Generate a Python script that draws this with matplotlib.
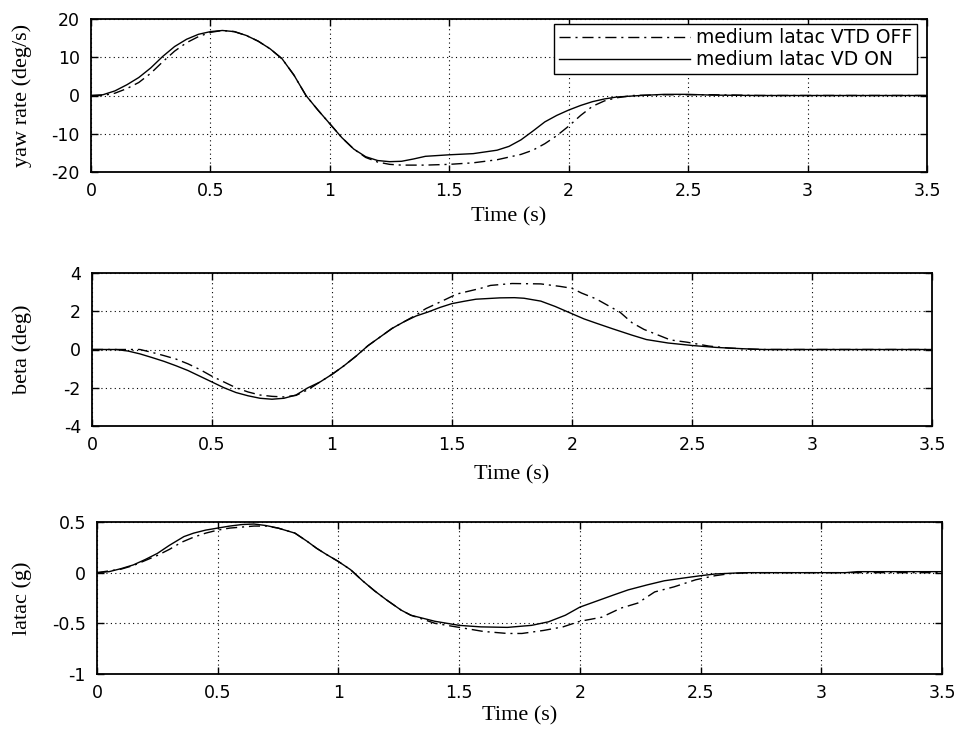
import numpy as np
import matplotlib
matplotlib.use("Agg")
import matplotlib.pyplot as plt

# ---- data ----
t_yaw_on = [0, 0.05, 0.1, 0.15, 0.2, 0.25, 0.3, 0.35, 0.4, 0.45, 0.5, 0.55, 0.6, 0.65, 0.7, 0.75,
            0.8, 0.85, 0.9, 0.95, 1.0, 1.05, 1.1, 1.15, 1.2, 1.25, 1.3, 1.35, 1.4, 1.5, 1.6, 1.7,
            1.75, 1.8, 1.85, 1.9, 1.95, 2.0, 2.05, 2.1, 2.15, 2.2, 2.3, 2.4, 2.5, 2.6, 2.8, 3.5]
yaw_on = [0, 0.2, 1.2, 2.8, 4.7, 7.2, 10.2, 12.8, 14.7, 16.0, 16.7, 17.0, 16.7, 15.7, 14.2, 12.2,
          9.6, 5.3, 0, -3.8, -7.4, -11.0, -14.0, -16.0, -17.0, -17.3, -17.2, -16.6, -15.9, -15.5, -15.2, -14.3,
          -13.3, -11.6, -9.3, -6.9, -5.2, -3.8, -2.6, -1.6, -0.9, -0.4, 0, 0.3, 0.3, 0.1, 0, 0]

t_yaw_off = [0, 0.05, 0.1, 0.15, 0.2, 0.25, 0.3, 0.35, 0.4, 0.45, 0.5, 0.55, 0.6, 0.65, 0.7, 0.75,
             0.8, 0.85, 0.9, 0.95, 1.0, 1.05, 1.1, 1.15, 1.2, 1.25, 1.3, 1.4, 1.5, 1.6, 1.7, 1.8,
             1.85, 1.9, 1.95, 2.0, 2.05, 2.1, 2.15, 2.2, 2.27, 2.4, 2.6, 2.8, 3.5]
yaw_off = [0, 0, 0.6, 1.8, 3.4, 5.8, 8.8, 11.6, 13.8, 15.4, 16.5, 17.0, 16.7, 15.7, 14.2, 12.2,
           9.6, 5.3, 0, -3.8, -7.4, -11.0, -14.0, -16.2, -17.4, -18.0, -18.2, -18.2, -18.0, -17.6, -16.8, -15.4,
           -14.3, -12.6, -10.5, -8.0, -5.2, -2.8, -1.4, -0.6, 0, 0.2, 0.2, 0, 0]

t_beta_on = [0, 0.1, 0.15, 0.2, 0.25, 0.3, 0.35, 0.4, 0.45, 0.5, 0.55, 0.6, 0.65, 0.7, 0.75, 0.8,
             0.85, 0.9, 0.95, 1.0, 1.05, 1.1, 1.15, 1.2, 1.25, 1.3, 1.35, 1.4, 1.45, 1.5, 1.55, 1.6,
             1.7, 1.76, 1.8, 1.87, 1.93, 2.0, 2.05, 2.1, 2.17, 2.25, 2.31, 2.4, 2.5, 2.6, 2.66, 2.75, 2.8, 3.5]
beta_on = [0, 0, -0.08, -0.23, -0.42, -0.62, -0.85, -1.1, -1.4, -1.7, -2.0, -2.25, -2.42, -2.55, -2.6, -2.55,
           -2.38, -2.0, -1.7, -1.3, -0.85, -0.35, 0.2, 0.65, 1.1, 1.45, 1.75, 1.96, 2.2, 2.4, 2.52, 2.63,
           2.7, 2.71, 2.68, 2.53, 2.25, 1.87, 1.6, 1.38, 1.08, 0.75, 0.52, 0.34, 0.21, 0.11, 0.07, 0.02, 0, 0]

t_beta_off = [0, 0.2, 0.25, 0.3, 0.35, 0.4, 0.45, 0.5, 0.55, 0.6, 0.65, 0.7, 0.75, 0.8, 0.85, 0.9,
              0.95, 1.0, 1.05, 1.1, 1.15, 1.2, 1.25, 1.3, 1.35, 1.39, 1.45, 1.52, 1.62, 1.66, 1.75, 1.87,
              1.95, 2.0, 2.04, 2.1, 2.15, 2.2, 2.25, 2.3, 2.35, 2.41, 2.48, 2.57, 2.65, 2.72, 2.8, 3.5]
beta_off = [0, 0, -0.15, -0.32, -0.5, -0.75, -1.05, -1.4, -1.7, -2.0, -2.22, -2.38, -2.45, -2.48, -2.4, -2.1,
            -1.7, -1.3, -0.85, -0.35, 0.2, 0.65, 1.1, 1.45, 1.8, 2.13, 2.48, 2.9, 3.2, 3.35, 3.45, 3.43,
            3.3, 3.2, 2.95, 2.65, 2.3, 1.95, 1.4, 1.05, 0.8, 0.5, 0.38, 0.18, 0.08, 0.03, 0, 0]

t_lat_on = [0, 0.05, 0.1, 0.15, 0.2, 0.25, 0.3, 0.36, 0.4, 0.45, 0.5, 0.55, 0.6, 0.65, 0.7, 0.75,
            0.82, 0.87, 0.91, 0.95, 1.0, 1.05, 1.1, 1.15, 1.2, 1.26, 1.3, 1.4, 1.5, 1.59, 1.7, 1.8,
            1.87, 1.94, 2.0, 2.07, 2.14, 2.2, 2.28, 2.35, 2.42, 2.5, 2.56, 2.65, 2.7, 3.1, 3.15, 3.5]
lat_on = [0, 0.01, 0.04, 0.076, 0.13, 0.19, 0.27, 0.356, 0.39, 0.42, 0.44, 0.46, 0.475, 0.48, 0.465, 0.44,
          0.39, 0.31, 0.24, 0.18, 0.11, 0.03, -0.08, -0.18, -0.27, -0.37, -0.42, -0.48, -0.52, -0.535, -0.54, -0.52,
          -0.485, -0.42, -0.34, -0.28, -0.22, -0.17, -0.12, -0.08, -0.056, -0.03, -0.013, -0.003, 0, 0, 0.01, 0.01]

t_lat_off = [0, 0.1, 0.15, 0.2, 0.25, 0.3, 0.35, 0.4, 0.45, 0.5, 0.55, 0.6, 0.65, 0.7, 0.75, 0.82,
             0.87, 0.91, 0.95, 1.0, 1.05, 1.1, 1.15, 1.2, 1.26, 1.3, 1.4, 1.5, 1.55, 1.6, 1.7, 1.76,
             1.85, 1.93, 2.0, 2.09, 2.17, 2.24, 2.31, 2.39, 2.48, 2.56, 2.62, 2.7, 3.5]
lat_off = [0, 0.035, 0.07, 0.12, 0.17, 0.23, 0.3, 0.35, 0.39, 0.42, 0.44, 0.45, 0.46, 0.46, 0.44, 0.39,
           0.31, 0.24, 0.18, 0.11, 0.03, -0.08, -0.18, -0.27, -0.37, -0.42, -0.5, -0.54, -0.56, -0.58, -0.6, -0.6,
           -0.57, -0.535, -0.48, -0.44, -0.35, -0.3, -0.19, -0.14, -0.07, -0.03, -0.01, 0, 0]

x_ticks = [0, 0.5, 1, 1.5, 2, 2.5, 3, 3.5]
x_ticklabels = ["0", "0.5", "1", "1.5", "2", "2.5", "3", "3.5"]

panels = [
    # (t_off, y_off, t_on, y_on, ylabel, ylim, yticks, yticklabels, rect px, xlabel center y px)
    (t_yaw_off, yaw_off, t_yaw_on, yaw_on, "yaw rate (deg/s)", (-20, 20),
     [-20, -10, 0, 10, 20], ["-20", "-10", "0", "10", "20"], (91, 927, 19, 172), 217),
    (t_beta_off, beta_off, t_beta_on, beta_on, "beta (deg)", (-4, 4),
     [-4, -2, 0, 2, 4], ["-4", "-2", "0", "2", "4"], (92, 932, 273, 426), 475),
    (t_lat_off, lat_off, t_lat_on, lat_on, "latac (g)", (-1, 0.5),
     [-1, -0.5, 0, 0.5], ["-1", "-0.5", "0", "0.5"], (97, 942, 522, 674), 716),
]

W, H = 958, 733
fig = plt.figure(figsize=(W / 100, H / 100), dpi=100)

tick_font = {"family": "DejaVu Sans", "size": 12.5}
label_font = {"family": "Liberation Serif", "size": 16}
dashdot = (0, (8, 3.5, 1.5, 3.5))

for i, (t1, y1, t2, y2, ylab, ylim, yt, ytl, (l, r, top, bot), xl_y) in enumerate(panels):
    ax = fig.add_axes([l / W, 1 - bot / H, (r - l) / W, (bot - top) / H])
    ln_off, = ax.plot(t1, y1, color="black", lw=1.0, linestyle=dashdot, label="medium latac VTD OFF")
    ln_on, = ax.plot(t2, y2, color="black", lw=1.0, label="medium latac VD ON")

    ax.set_xlim(0, 3.5)
    ax.set_ylim(*ylim)
    ax.set_xticks(x_ticks)
    ax.set_xticklabels(x_ticklabels, fontdict=tick_font)
    ax.set_yticks(yt)
    ax.set_yticklabels(ytl, fontdict=tick_font)
    ax.tick_params(direction="in", length=5, width=1, top=True, right=True)
    ax.tick_params(axis="x", pad=7)
    ax.tick_params(axis="y", pad=8)
    for sp in ax.spines.values():
        sp.set_linewidth(1.3)
    ax.grid(True, color="black", linestyle=(0, (1, 3)), linewidth=0.8)

    ax.set_xlabel("Time (s)", fontdict=label_font, va="center")
    ax.xaxis.set_label_coords((l + r) / 2 / W, 1 - xl_y / H, transform=fig.transFigure)
    ax.set_ylabel(ylab, fontdict=label_font, va="center")
    ax.yaxis.set_label_coords(22 / W, 1 - (top + bot) / 2 / H, transform=fig.transFigure)

    if i == 0:
        leg = ax.legend(handles=[ln_off, ln_on], loc="upper right", bbox_to_anchor=(0.988, 0.97),
                        prop={"family": "DejaVu Sans", "size": 13.5}, fancybox=False,
                        framealpha=1, edgecolor="black", handlelength=7.0, handletextpad=0.3,
                        borderpad=0.25, labelspacing=0.15, borderaxespad=0)
        leg.get_frame().set_linewidth(1.0)

fig.savefig("out.png", dpi=100)
